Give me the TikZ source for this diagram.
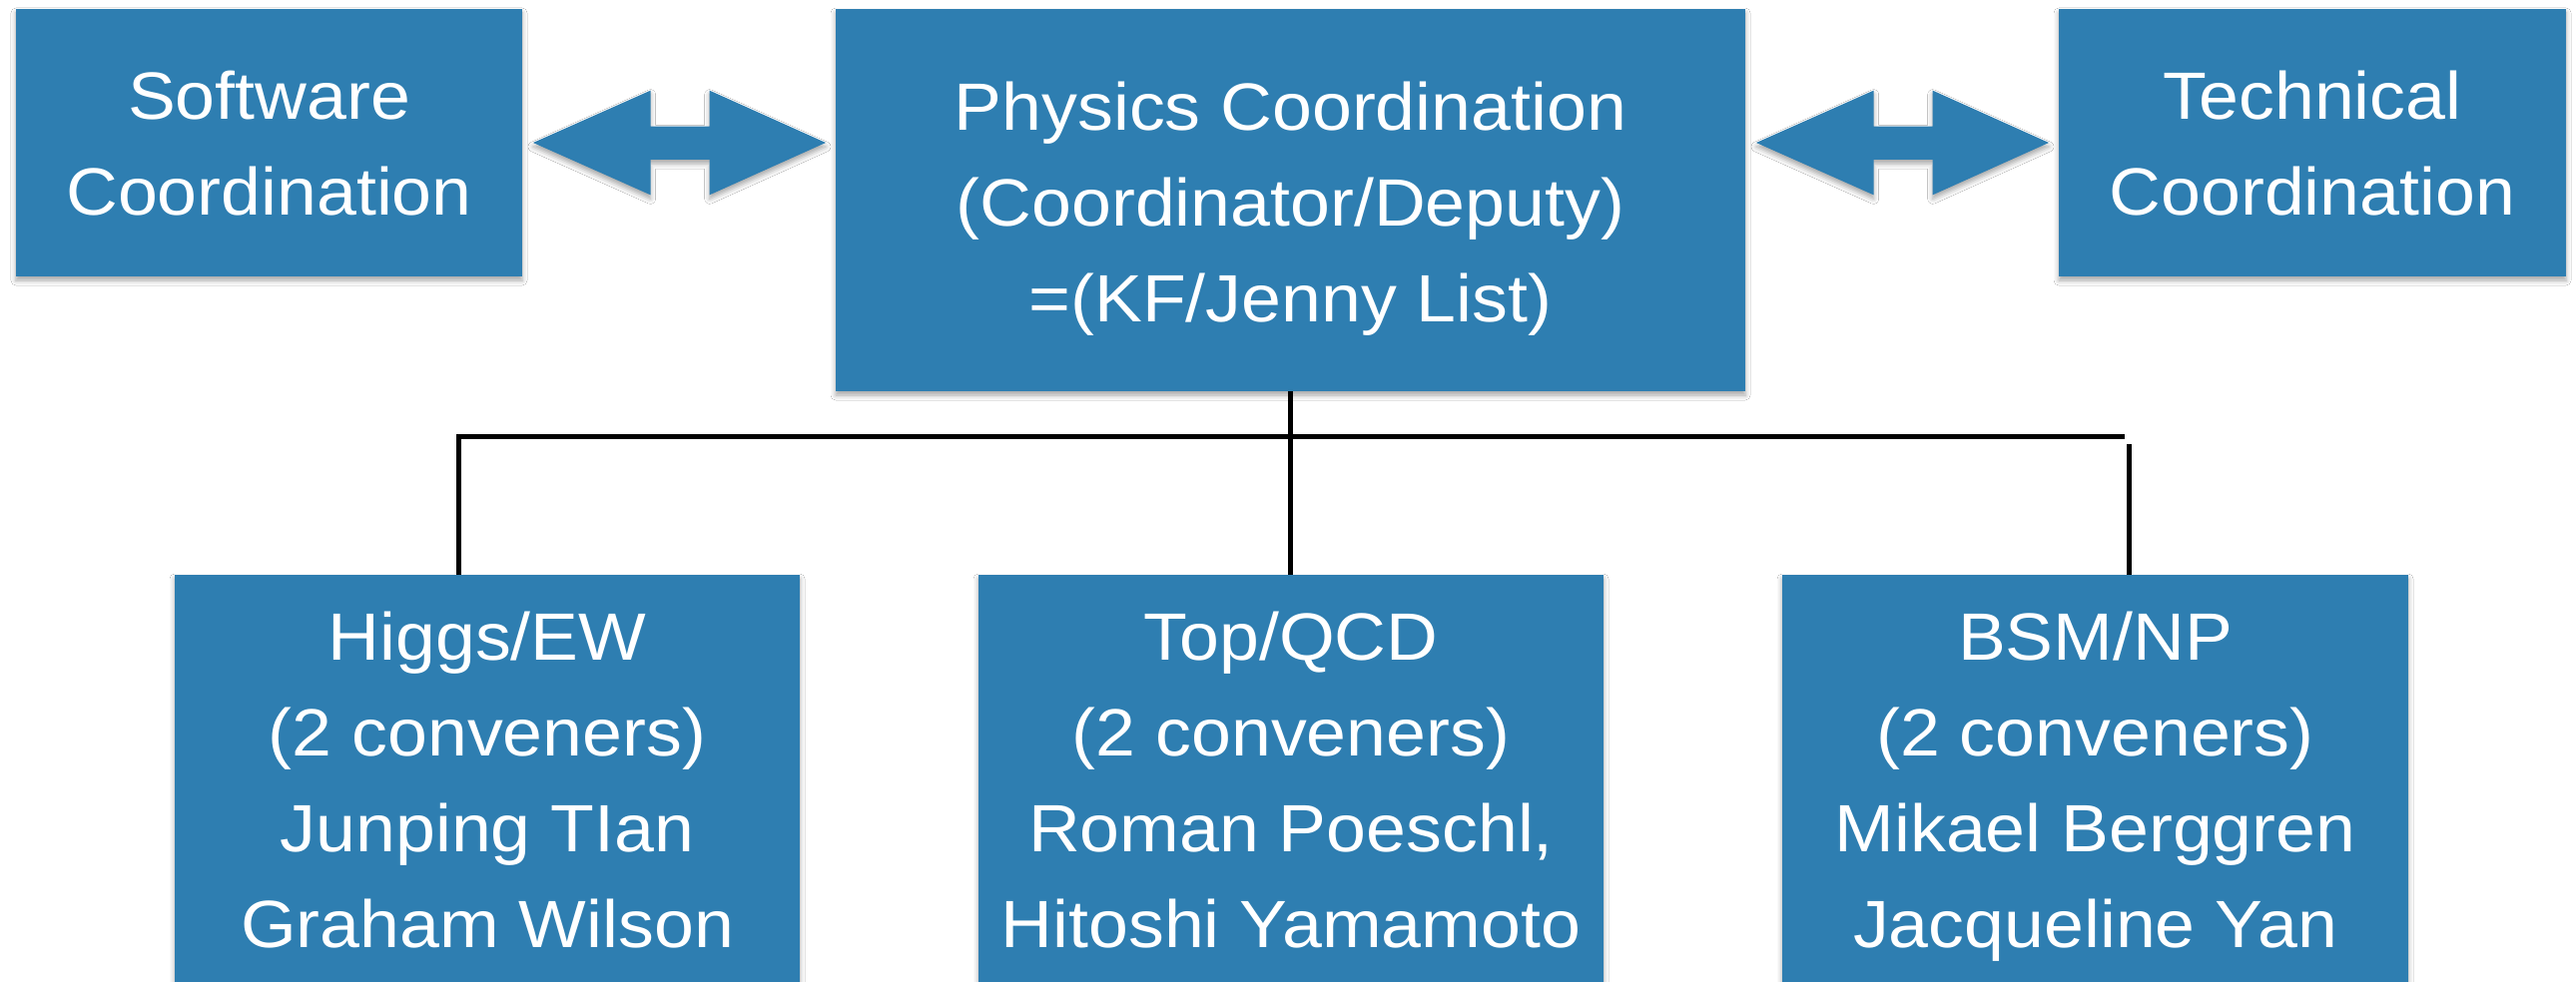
\documentclass[tikz,border=0pt]{standalone}
\usepackage{fontspec}
\setmainfont{Liberation Sans}[FakeStretch=1.07]
\usetikzlibrary{shadows.blur}
\definecolor{boxblue}{RGB}{46,126,177}
\tikzset{
  shad/.style={blur shadow={shadow xshift=0pt, shadow yshift=-4pt, shadow blur radius=5pt, shadow opacity=35}},
  box/.style={fill=boxblue, draw=none, inner sep=0pt, outer sep=0pt, shad},
  lbl/.style={text=white, anchor=base, inner sep=0pt, font=\fontsize{67}{80}\selectfont},
  conn/.style={draw=black, line width=5pt},
  dblarrow/.style={fill=boxblue, draw=none, shad}
}
\begin{document}
\begin{tikzpicture}[x=1pt,y=-1pt]
\clip (0,0) rectangle (2580,984);
\fill[white] (0,0) rectangle (2580,984);
% connectors
\coordinate (hl) at (459,437);
\coordinate (hr) at (2128,437);
\coordinate (vr) at (2132,445);
% boxes
\node[box, minimum width=507pt, minimum height=268pt] (sw) at (269.5,143) {};
\node[box, minimum width=911pt, minimum height=383pt] (phys) at (1292.5,200.5) {};
\node[box, minimum width=508pt, minimum height=268pt] (tech) at (2316,143) {};
\node[box, minimum width=626pt, minimum height=412pt] (higgs) at (488,782) {};
\node[box, minimum width=626pt, minimum height=412pt] (top) at (1293,782) {};
\node[box, minimum width=627pt, minimum height=412pt] (bsm) at (2098.5,782) {};
\draw[conn] (phys.south) -- (phys.south |- top.north);
\draw[conn] (higgs.north -| hl) -- (hl) -- (hr);
\draw[conn] (vr) -- (bsm.north -| vr);
% double arrows
\path[dblarrow] (534,143) -- (651.5,90.7) -- (651.5,126.7) -- (710.7,126.7) -- (710.7,90.7) -- (827,143)
  -- (710.7,195.3) -- (710.7,160) -- (651.5,160) -- (651.5,195.3) -- cycle;
\path[dblarrow] (1759,143) -- (1876.5,90.7) -- (1876.5,126.7) -- (1935.7,126.7) -- (1935.7,90.7) -- (2052,143)
  -- (1935.7,195.3) -- (1935.7,160) -- (1876.5,160) -- (1876.5,195.3) -- cycle;
% labels
\node[lbl] (sw1) at (269.5,120) {Software};
\node[lbl] (sw2) at (269.5,216) {Coordination};
\node[lbl] (ph1) at (1292.5,131) {Physics Coordination};
\node[lbl] (ph2) at (1292.5,227) {(Coordinator/Deputy)};
\node[lbl] (ph3) at (1292.5,323) {=(KF/Jenny List)};
\node[lbl] (te1) at (2316,120) {Technical};
\node[lbl] (te2) at (2316,216) {Coordination};
\node[lbl] (hi1) at (488,661) {Higgs/EW};
\node[lbl] (hi2) at (488,757) {(2 conveners)};
\node[lbl] (hi3) at (488,853) {Junping TIan};
\node[lbl] (hi4) at (488,949) {Graham Wilson};
\node[lbl] (tq1) at (1293,661) {Top/QCD};
\node[lbl] (tq2) at (1293,757) {(2 conveners)};
\node[lbl] (tq3) at (1293,853) {Roman Poeschl,};
\node[lbl] (tq4) at (1293,949) {Hitoshi Yamamoto};
\node[lbl] (bs1) at (2098.5,661) {BSM/NP};
\node[lbl] (bs2) at (2098.5,757) {(2 conveners)};
\node[lbl] (bs3) at (2098.5,853) {Mikael Berggren};
\node[lbl] (bs4) at (2098.5,949) {Jacqueline Yan};
\end{tikzpicture}
\end{document}
